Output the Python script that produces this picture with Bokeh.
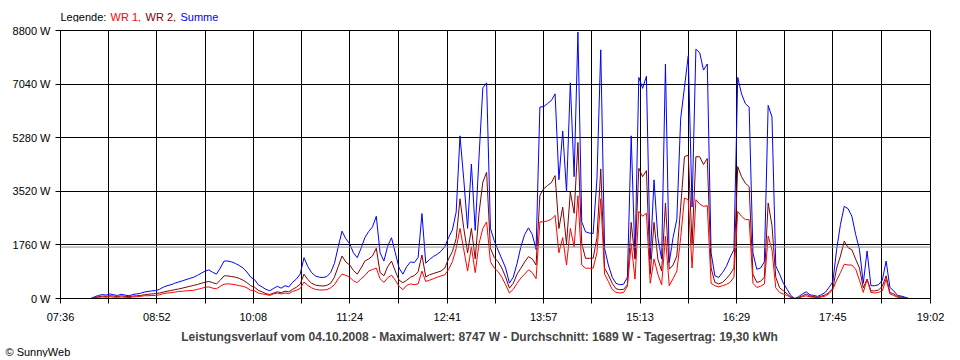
from bokeh.plotting import figure
from bokeh.models import FixedTicker, PrintfTickFormatter, Span, Label, Range1d, Title
from bokeh.layouts import column
from bokeh.embed import file_html
from bokeh.resources import INLINE

# ---------------- data ----------------
start_minute = 480      # 08:00, first sample
step_minutes = 3        # sampling interval

summe = [
    0, 60, 100, 130, 110, 150, 120, 100, 140, 110,
    90, 130, 150, 170, 210, 230, 250, 260, 300, 370,
    420, 450, 500, 540, 580, 620, 660, 700, 760, 830,
    900, 940, 860, 800, 1000, 1230, 1230, 1200, 1150, 1080,
    1000, 870, 700, 620, 450, 380, 300, 255, 330, 400,
    340, 420, 380, 530, 640, 800, 1340, 1050, 850, 740,
    700, 690, 720, 850, 1150, 1700, 2210, 1960, 1800, 1500,
    1340, 1650, 2000, 2200, 2350, 2700, 1500, 1230, 1720, 1995,
    1500, 1000, 800, 1050, 1200, 1180, 1350, 2790, 1160, 1280,
    1380, 1450, 1550, 1700, 2000, 2250, 2840, 5340, 3900, 2300,
    4415, 2240, 4635, 6915, 7080, 2300, 1900, 1590, 1300, 1000,
    505, 700, 1150, 1700, 2100, 2320, 2100, 1610, 6285, 6300,
    6400, 6500, 6720, 3900, 5500, 3500, 7080, 4000, 8747, 2515,
    2190, 2150, 2135, 3930, 8165, 1645, 1100, 700, 500, 450,
    470, 700, 5340, 1320, 7260, 6900, 7300, 1290, 3895, 2000,
    1300, 7700, 1180, 2000, 2600, 5905, 6935, 7970, 3000, 8185,
    8075, 7500, 7700, 1500, 750, 690, 850, 1050, 1350, 1600,
    7260, 6720, 6400, 6285, 1500, 960, 1000, 1200, 6340, 5960,
    1070, 800, 500, 300, 90, 0, 60, 150, 220, 120,
    100, 70, 130, 200, 365, 550, 1610, 2430, 3025, 2950,
    2700, 2100, 1610, 500, 1560, 420, 420, 450, 600, 1230,
    365, 250, 100, 80, 40, 0,
]

wr2 = [
    0, 30, 60, 80, 70, 90, 80, 60, 90, 70,
    60, 80, 90, 100, 120, 140, 150, 160, 180, 210,
    240, 260, 290, 310, 340, 370, 400, 430, 460, 500,
    530, 560, 520, 480, 600, 745, 740, 720, 700, 660,
    600, 520, 420, 370, 270, 220, 160, 130, 180, 220,
    190, 240, 220, 300, 370, 470, 800, 620, 500, 440,
    420, 410, 430, 500, 700, 1050, 1395, 1200, 1100, 920,
    800, 1000, 1230, 1300, 1395, 1650, 850, 745, 1050, 1230,
    900, 600, 520, 600, 700, 750, 880, 1430, 710, 780,
    820, 860, 900, 1000, 1300, 1540, 1970, 3275, 2300, 1500,
    2300, 1300, 2800, 3820, 4145, 1645, 1350, 1210, 1000, 700,
    340, 500, 800, 995, 1200, 1375, 1300, 1100, 3385, 3600,
    3710, 3800, 4035, 2300, 3000, 1800, 3500, 2800, 5125, 1800,
    1320, 1320, 1320, 2000, 4255, 1000, 775, 500, 320, 290,
    300, 450, 2500, 1290, 4275, 4000, 4200, 800, 2500, 1300,
    900, 3135, 960, 1100, 1400, 3000, 4655, 4710, 1800, 4655,
    4655, 4400, 4600, 1000, 530, 480, 530, 650, 800, 1000,
    4330, 4000, 3785, 3675, 800, 530, 560, 700, 3135, 2400,
    700, 350, 255, 150, 40, 0, 30, 90, 145, 80,
    60, 40, 80, 120, 200, 330, 1000, 1395, 1885, 1670,
    1600, 1290, 1000, 350, 635, 250, 250, 280, 400, 745,
    200, 150, 60, 50, 20, 0,
]

wr1 = [
    0, 30, 40, 50, 40, 60, 40, 40, 50, 40,
    30, 50, 60, 70, 90, 90, 100, 100, 120, 160,
    180, 190, 210, 230, 240, 250, 260, 270, 300, 330,
    370, 380, 340, 320, 400, 470, 480, 470, 450, 420,
    400, 350, 270, 250, 180, 150, 130, 100, 150, 180,
    150, 180, 160, 230, 270, 330, 540, 430, 350, 300,
    280, 280, 290, 350, 450, 650, 800, 760, 700, 580,
    520, 650, 750, 900, 950, 1000, 650, 530, 680, 765,
    600, 400, 290, 430, 480, 450, 480, 900, 560, 600,
    650, 700, 740, 780, 950, 1210, 1645, 2300, 1600, 900,
    1700, 850, 1800, 2300, 2515, 1210, 1000, 885, 700, 450,
    180, 300, 500, 670, 800, 940, 850, 650, 2515, 2520,
    2550, 2600, 2730, 1500, 2000, 1100, 2300, 1700, 3375, 1100,
    995, 995, 995, 1500, 3275, 800, 560, 300, 200, 180,
    200, 400, 1800, 635, 2860, 2700, 2800, 500, 1300, 800,
    450, 2050, 420, 650, 900, 2000, 3300, 3245, 1000, 3245,
    3100, 3025, 3050, 500, 420, 380, 420, 460, 530, 700,
    2860, 2700, 2590, 2590, 500, 365, 400, 480, 2050, 1600,
    350, 200, 145, 100, 30, 0, 20, 60, 90, 50,
    40, 30, 50, 80, 160, 300, 600, 850, 1125, 1100,
    1100, 960, 600, 200, 635, 200, 180, 200, 250, 635,
    150, 100, 40, 30, 10, 0,
]

x_tick_labels = ["07:36", "08:52", "10:08", "11:24", "12:41",
                 "13:57", "15:13", "16:29", "17:45", "19:02"]
y_ticks = [0, 1760, 3520, 5280, 7040, 8800]
series_names = ["WR 1,", "WR 2,", "Summe"]
series_colors = ["#ff0000", "#800000", "#0000ff"]
average_w = 1689
title_text = ("Leistungsverlauf vom 04.10.2008 - Maximalwert: 8747 W - "
              "Durchschnitt: 1689 W - Tagesertrag: 19,30 kWh")
copyright_text = "\u00a9 SunnyWeb"

# ---------------- derived ----------------
times = [start_minute + step_minutes * i for i in range(len(summe))]
label_minutes = [int(s[:2]) * 60 + int(s[3:]) for s in x_tick_labels]
mid_minutes = [(a + b) / 2 for a, b in zip(label_minutes[:-1], label_minutes[1:])]

FONT = "Liberation Sans"
W = 960
FRAME_LEFT = 60   # frames of all stacked figures line up here


def text_strip(height):
    f = figure(width=W, height=height, x_range=Range1d(0, W),
               y_range=Range1d(0, height), x_axis_type=None, y_axis_type=None,
               output_backend="svg", toolbar_location=None,
               min_border=0, outline_line_color=None)
    f.grid.visible = False
    return f


# ---------------- header (legend text) ----------------
head = text_strip(22)
legend_x = [60, 110, 145, 180]
parts = ["Legende:"] + series_names
colors = ["black"] + series_colors
for xx, txt, col in zip(legend_x, parts, colors):
    head.add_layout(Label(x=xx - FRAME_LEFT, y=6, x_units="screen", y_units="screen",
                          text=txt, text_color=col, text_font=FONT,
                          text_font_size="11px", text_baseline="middle"))

# ---------------- main chart ----------------
p = figure(width=W, height=303,
           x_range=Range1d(label_minutes[0], label_minutes[-1]),
           y_range=Range1d(y_ticks[0], y_ticks[-1]),
           output_backend="svg", toolbar_location=None,
           min_border_left=FRAME_LEFT, min_border_right=30,
           min_border_top=8, min_border_bottom=25)
p.background_fill_color = "white"
p.border_fill_color = "white"
p.outline_line_color = "black"
p.outline_line_width = 1

xt = FixedTicker(ticks=label_minutes, minor_ticks=mid_minutes)
p.xaxis.ticker = xt
p.xgrid.ticker = xt
p.xaxis.major_label_overrides = {m: s for m, s in zip(label_minutes, x_tick_labels)}
yt = FixedTicker(ticks=y_ticks)
p.yaxis.ticker = yt
p.ygrid.ticker = yt
p.yaxis.formatter = PrintfTickFormatter(format="%d W")

for ax in (p.xaxis[0], p.yaxis[0]):
    ax.axis_line_color = "black"
    ax.major_tick_line_color = "black"
    ax.major_tick_out = 5
    ax.major_tick_in = 0
    ax.minor_tick_line_color = "black"
    ax.minor_tick_out = 5
    ax.minor_tick_in = 0
    ax.major_label_text_font = FONT
    ax.major_label_text_font_size = "11px"
    ax.major_label_text_color = "black"
p.yaxis.minor_tick_line_color = None
p.xaxis.major_label_standoff = 7
p.yaxis.major_label_standoff = 5

p.xgrid.grid_line_color = "black"
p.xgrid.minor_grid_line_color = "black"
p.ygrid.grid_line_color = "black"
p.xgrid.grid_line_alpha = 1
p.ygrid.grid_line_alpha = 1

p.add_layout(Span(location=average_w, dimension="width",
                  line_color="#909090", line_width=1))

p.line(times, summe, line_color=series_colors[2], line_width=1)
p.line(times, wr2, line_color=series_colors[1], line_width=1)
p.line(times, wr1, line_color=series_colors[0], line_width=1)

# ---------------- footer (title + copyright) ----------------
foot = text_strip(32)
foot.add_layout(Title(text=copyright_text, align="left", offset=5 - FRAME_LEFT,
                      standoff=0, text_font=FONT, text_font_size="11px",
                      text_font_style="normal", text_color="black"), "below")
foot.add_layout(Label(x=479 - FRAME_LEFT, y=6.5, x_units="screen", y_units="screen",
                      text=title_text, text_font=FONT, text_font_size="12px",
                      text_font_style="bold", text_align="center",
                      text_baseline="middle"))

layout = column(head, p, foot, spacing=0)
open("out.html", "w").write(file_html(layout, INLINE))
